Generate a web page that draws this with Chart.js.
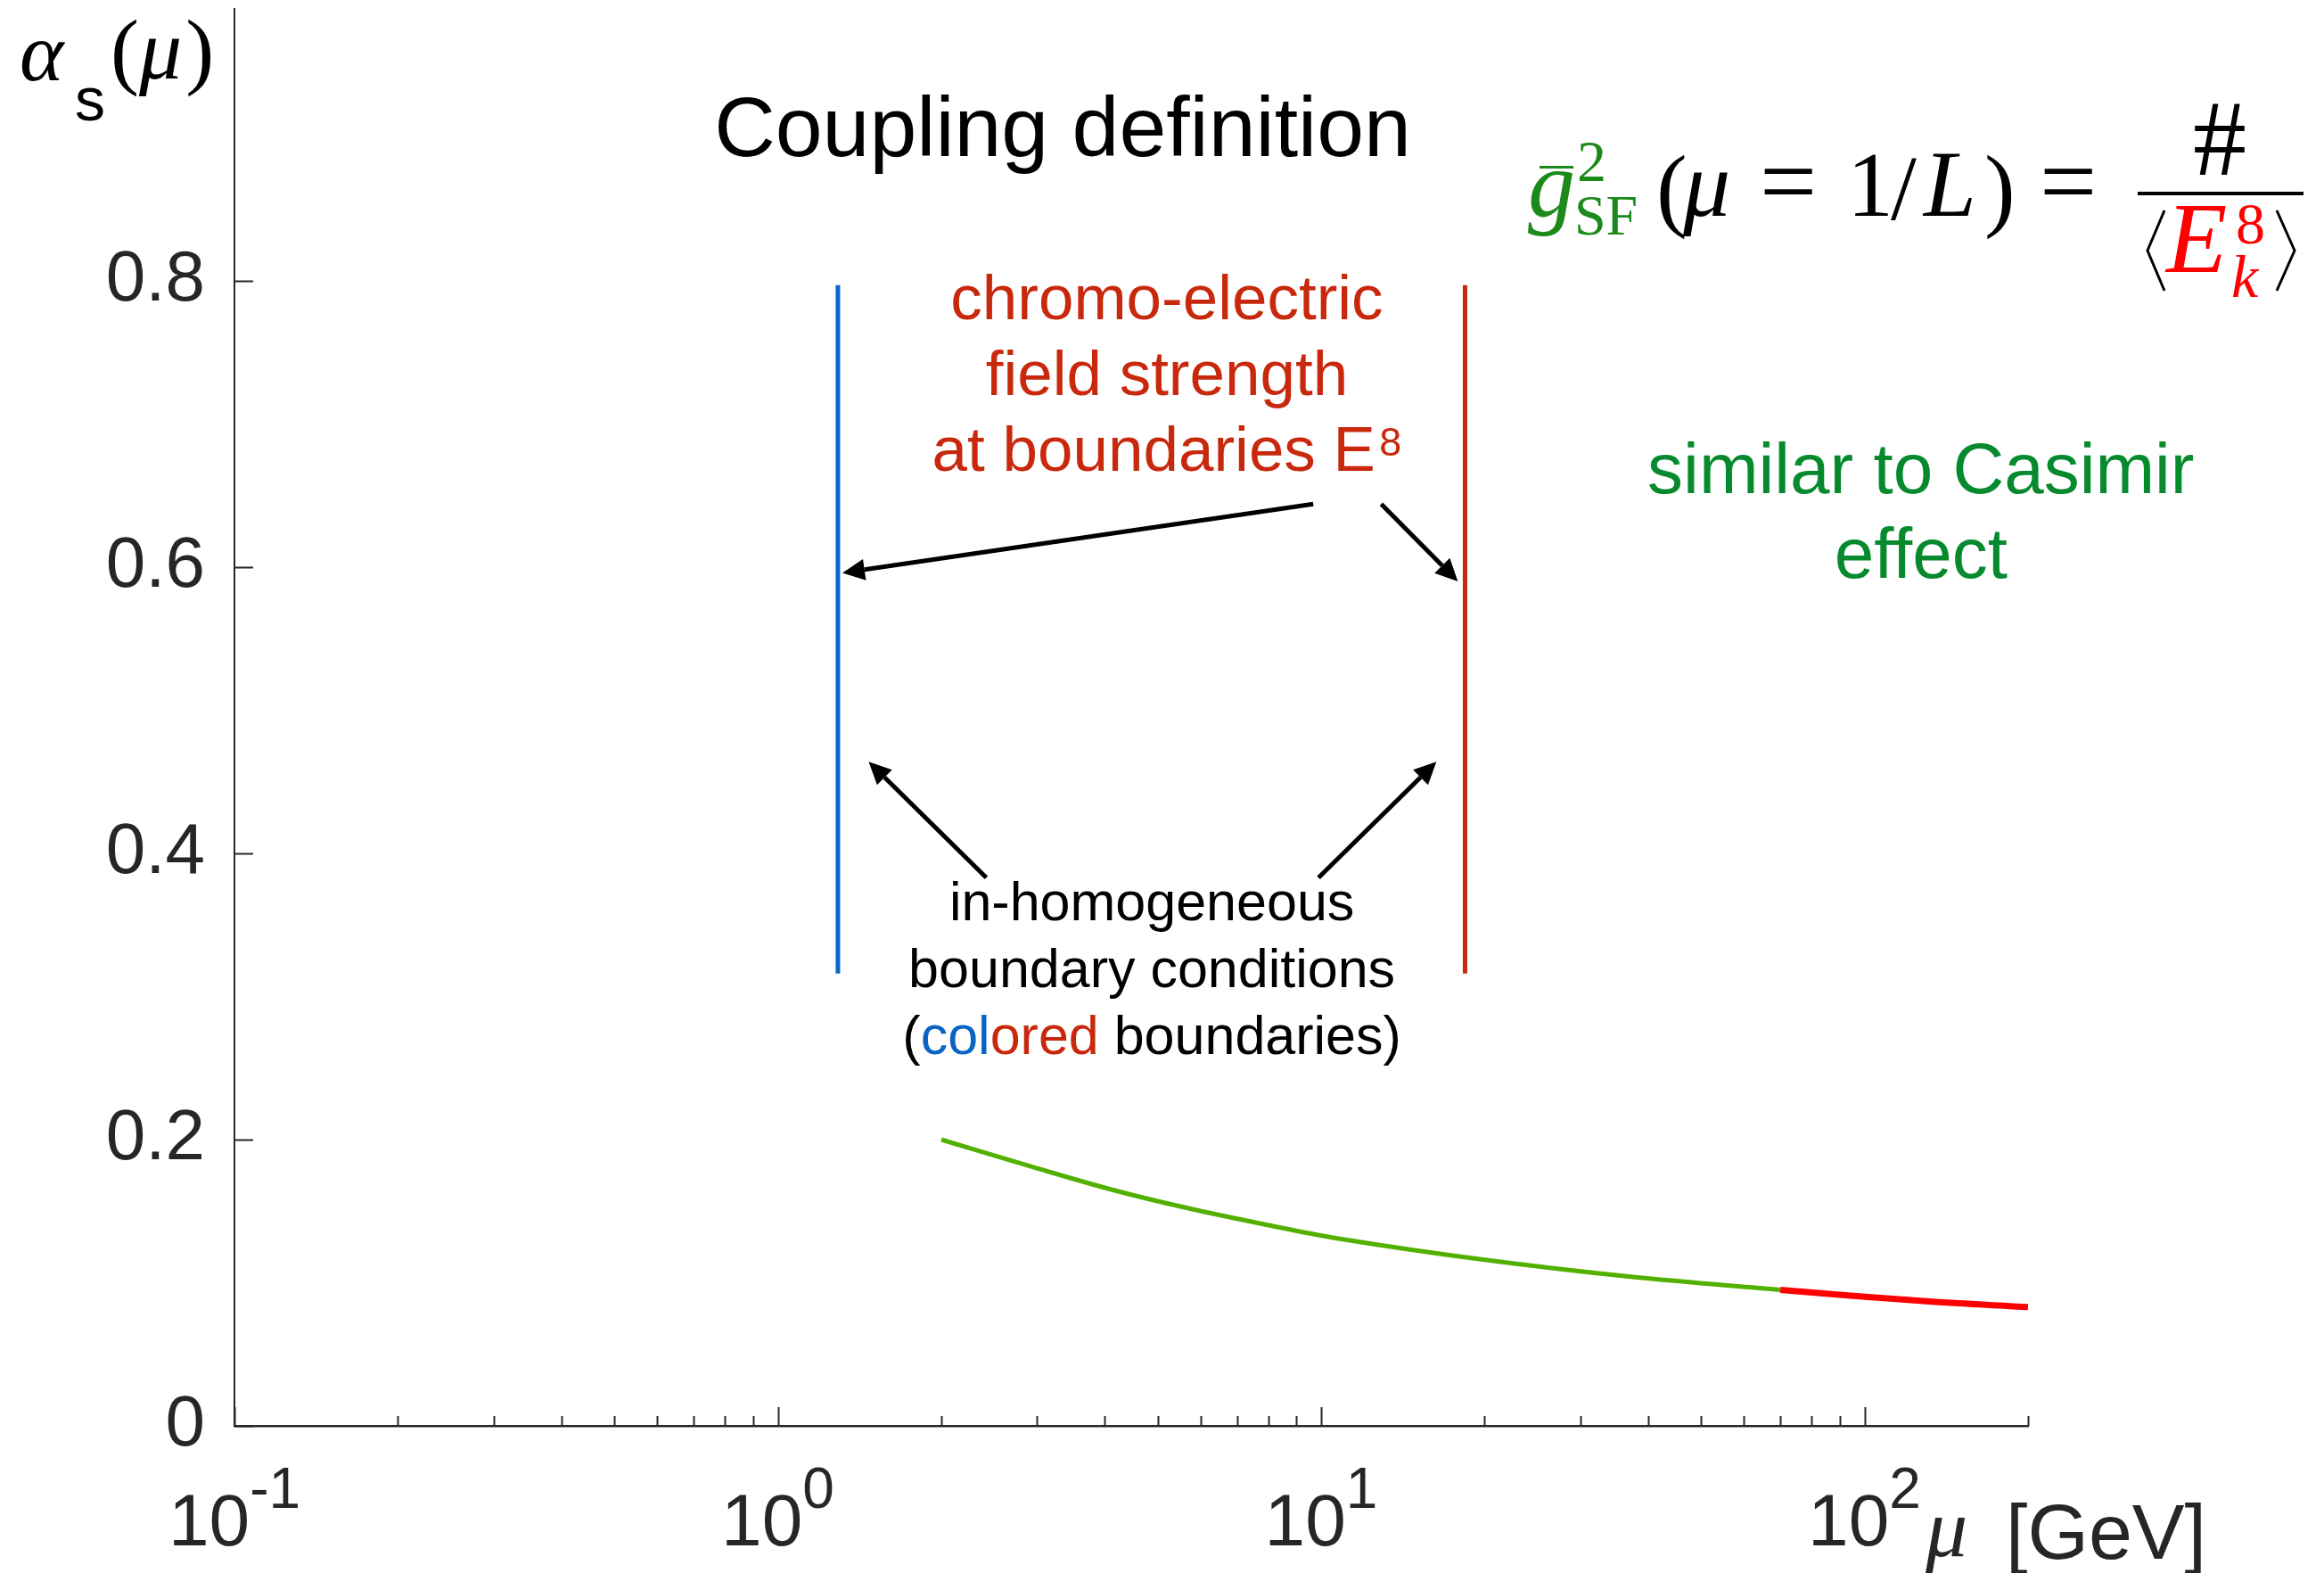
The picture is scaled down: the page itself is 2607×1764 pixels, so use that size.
<!DOCTYPE html>
<html>
<head>
<meta charset="utf-8">
<script src="https://cdn.jsdelivr.net/npm/chart.js@4.4.1/dist/chart.umd.min.js"></script>
<style>
  html, body { margin: 0; padding: 0; background: #fff; }
  canvas { display: block; }
</style>
</head>
<body>
<canvas id="alphaChart" width="2607" height="1764"></canvas>
<script>
// running coupling alpha_s(mu) -- perturbative part and high-energy part
const muLow = [2, 3, 4.17, 5.7, 7.82, 10.7, 20, 37.5, 70];
const alphaLow = [0.200, 0.180, 0.1645, 0.152, 0.141, 0.131, 0.116, 0.104, 0.095];
const muHigh = [70, 130, 200];
const alphaHigh = [0.095, 0.087, 0.083];

// the two colored boundaries (walls) of the finite box
const wallMu = [1.29, 18.4];
const wallAlpha = [0.316, 0.797];

const yTicks = [0, 0.2, 0.4, 0.6, 0.8];
const xDecades = [-1, 0, 1, 2];
const xMinorSteps = [2, 3, 4, 5, 6, 7, 8, 9];

const SANS = '"Liberation Sans", Arial, Helvetica, sans-serif';
const SERIF = '"Liberation Serif", "DejaVu Serif", serif';
const AXIS_INK = '#262626';
const BLUE = '#0a64c2';
const BRICK = '#c8280c';
const LEAF = '#078a2e';

// arrows and notes live in data coordinates [mu, alpha]
const arrows = [
  { from: [9.67, 0.644], to: [1.315, 0.596] },
  { from: [12.9, 0.644], to: [17.85, 0.590] },
  { from: [2.42, 0.383], to: [1.47, 0.464] },
  { from: [9.89, 0.383], to: [16.3, 0.464] }
];

const notes = [
  {
    at: [5.2, 0.773], size: 71, lead: 85,
    lines: [
      [['chromo-electric', BRICK]],
      [['field strength', BRICK]],
      [['at boundaries E', BRICK], ['8', BRICK, 'sup']]
    ]
  },
  {
    at: [4.88, 0.353], size: 61, lead: 75,
    lines: [
      [['in-homogeneous', '#000']],
      [['boundary conditions', '#000']],
      [['(', '#000'], ['col', BLUE], ['ored', BRICK], [' boundaries)', '#000']]
    ]
  },
  {
    at: [127, 0.652], size: 80, lead: 95,
    lines: [
      [['similar to Casimir', LEAF]],
      [['effect', LEAF]]
    ]
  }
];

function put(ctx, text, x, y, font, color, align) {
  ctx.font = font;
  ctx.fillStyle = color;
  ctx.textAlign = align || 'left';
  ctx.textBaseline = 'alphabetic';
  ctx.fillText(text, x, y);
}

function arrow(ctx, x1, y1, x2, y2) {
  const len = 25, half = 12;
  const a = Math.atan2(y2 - y1, x2 - x1);
  const bx = x2 - len * Math.cos(a), by = y2 - len * Math.sin(a);
  ctx.strokeStyle = '#000';
  ctx.fillStyle = '#000';
  ctx.lineWidth = 5;
  ctx.beginPath();
  ctx.moveTo(x1, y1);
  ctx.lineTo(bx, by);
  ctx.stroke();
  ctx.beginPath();
  ctx.moveTo(x2, y2);
  ctx.lineTo(bx + half * Math.sin(a), by - half * Math.cos(a));
  ctx.lineTo(bx - half * Math.sin(a), by + half * Math.cos(a));
  ctx.closePath();
  ctx.fill();
}

// one centered line made of colored runs; 'sup' runs are smaller and raised
function drawRuns(ctx, runs, cx, y, size) {
  const supSize = Math.round(size * 0.64);
  let total = 0;
  const widths = runs.map(r => {
    ctx.font = (r[2] === 'sup' ? supSize : size) + 'px ' + SANS;
    const w = ctx.measureText(r[0]).width + (r[2] === 'sup' ? size * 0.06 : 0);
    total += w;
    return w;
  });
  let x = cx - total / 2;
  runs.forEach((r, i) => {
    if (r[2] === 'sup') {
      put(ctx, r[0], x + size * 0.06, y - size * 0.24, supSize + 'px ' + SANS, r[1]);
    } else {
      put(ctx, r[0], x, y, size + 'px ' + SANS, r[1]);
    }
    x += widths[i];
  });
}

function drawPower(ctx, cx, y, exp) {
  const base = '10', sup = String(exp);
  ctx.font = '82px ' + SANS;
  const wb = ctx.measureText(base).width;
  ctx.font = '64px ' + SANS;
  const ws = ctx.measureText(sup).width;
  const x0 = cx - (wb + ws) / 2;
  put(ctx, base, x0, y, '82px ' + SANS, AXIS_INK);
  put(ctx, sup, x0 + wb, y - 42, '64px ' + SANS, AXIS_INK);
}

function drawFormula(ctx) {
  const green = '#1b8a1b', red = '#ff0000', ink = '#000';
  const it = 'italic 106px ' + SERIF, rm = '104px ' + SERIF;
  put(ctx, 'g', 1714, 242, it, green);
  ctx.fillStyle = green;
  ctx.fillRect(1727, 186, 38, 3);
  put(ctx, '2', 1769, 203, '66px ' + SERIF, green);
  put(ctx, 'SF', 1766, 263, '64px ' + SERIF, green);
  put(ctx, '(', 1858, 246, rm, ink);
  put(ctx, 'μ', 1888, 242, it, ink);
  put(ctx, '=', 1974, 242, '114px ' + SERIF, ink);
  put(ctx, '1', 2072, 242, rm, ink);
  put(ctx, '/', 2121, 246, rm, ink);
  put(ctx, 'L', 2158, 242, it, ink);
  put(ctx, ')', 2226, 246, rm, ink);
  put(ctx, '=', 2288, 242, '114px ' + SERIF, ink);
  // fraction # / <E_k^8>
  ctx.fillStyle = ink;
  ctx.fillRect(2398, 215, 186, 4);
  put(ctx, '#', 2490, 196, '120px ' + SERIF, ink, 'center');
  ctx.strokeStyle = ink;
  ctx.lineWidth = 3;
  ctx.beginPath();
  ctx.moveTo(2428, 236); ctx.lineTo(2409, 281); ctx.lineTo(2428, 326);
  ctx.moveTo(2554, 236); ctx.lineTo(2574, 281); ctx.lineTo(2554, 326);
  ctx.stroke();
  put(ctx, 'E', 2430, 305, 'italic 112px ' + SERIF, red);
  put(ctx, '8', 2508, 273, '66px ' + SERIF, red);
  put(ctx, 'k', 2503, 333, 'italic 68px ' + SERIF, red);
}

const decorations = {
  id: 'decorations',
  afterDraw(chart) {
    const ctx = chart.ctx;
    const xs = chart.scales.x, ys = chart.scales.y;
    const area = chart.chartArea;
    ctx.save();

    // inward tick marks
    ctx.strokeStyle = AXIS_INK;
    ctx.lineWidth = 2;
    ctx.beginPath();
    yTicks.forEach(v => {
      const py = Math.round(ys.getPixelForValue(v)) + 0.5;
      ctx.moveTo(area.left, py);
      ctx.lineTo(area.left + 21, py);
    });
    xDecades.forEach(e => {
      const base = Math.pow(10, e);
      const px = Math.round(xs.getPixelForValue(base)) + 0.5;
      ctx.moveTo(px, area.bottom);
      ctx.lineTo(px, area.bottom - 21);
      xMinorSteps.forEach(k => {
        const v = k * base;
        if (v > xs.max * 1.0001) return;
        const mx = Math.round(xs.getPixelForValue(v)) + 0.5;
        ctx.moveTo(mx, area.bottom);
        ctx.lineTo(mx, area.bottom - 11);
      });
    });
    ctx.stroke();

    // decade labels
    xDecades.forEach(e => drawPower(ctx, xs.getPixelForValue(Math.pow(10, e)), 1733, e));

    // axis titles
    put(ctx, 'μ', 2160, 1745, 'italic 94px ' + SERIF, AXIS_INK);
    put(ctx, '[GeV]', 2250, 1748, '88px ' + SANS, AXIS_INK);
    put(ctx, 'α', 22, 90, 'italic 94px ' + SERIF, '#000');
    put(ctx, 's', 84, 135, '68px ' + SANS, '#000');
    ctx.font = '96px ' + SERIF;
    const pw = ctx.measureText('(').width;
    put(ctx, '(', 124, 88, '96px ' + SERIF, '#000');
    ctx.font = 'italic 96px ' + SERIF;
    const mw = ctx.measureText('μ').width;
    put(ctx, 'μ', 124 + pw, 88, 'italic 96px ' + SERIF, '#000');
    put(ctx, ')', 124 + pw + mw + 4, 88, '96px ' + SERIF, '#000');

    // title and definition of the coupling
    put(ctx, 'Coupling definition', 1192, 175, '95px ' + SANS, '#000', 'center');
    drawFormula(ctx);

    // notes and arrows
    notes.forEach(n => {
      const cx = xs.getPixelForValue(n.at[0]);
      const y0 = ys.getPixelForValue(n.at[1]);
      n.lines.forEach((runs, i) => drawRuns(ctx, runs, cx, y0 + i * n.lead, n.size));
    });
    arrows.forEach(a => arrow(ctx,
      xs.getPixelForValue(a.from[0]), ys.getPixelForValue(a.from[1]),
      xs.getPixelForValue(a.to[0]), ys.getPixelForValue(a.to[1])));

    ctx.restore();
  }
};

const toPoints = (xv, yv) => xv.map((x, i) => ({ x, y: yv[i] }));

new Chart(document.getElementById('alphaChart'), {
  type: 'line',
  data: {
    datasets: [
      {
        data: toPoints(muLow, alphaLow),
        borderColor: '#52b000',
        borderWidth: 5,
        pointRadius: 0,
        tension: 0.35
      },
      {
        data: toPoints(muHigh, alphaHigh),
        borderColor: '#ff0000',
        borderWidth: 7,
        pointRadius: 0,
        tension: 0.35
      },
      {
        data: toPoints([wallMu[0], wallMu[0]], wallAlpha),
        borderColor: BLUE,
        borderWidth: 5,
        pointRadius: 0
      },
      {
        data: toPoints([wallMu[1], wallMu[1]], wallAlpha),
        borderColor: BRICK,
        borderWidth: 5,
        pointRadius: 0
      }
    ]
  },
  options: {
    responsive: false,
    animation: false,
    devicePixelRatio: 1,
    layout: { padding: { left: 0, right: 332, top: 10, bottom: 0 } },
    plugins: {
      legend: { display: false },
      tooltip: { enabled: false }
    },
    scales: {
      x: {
        type: 'logarithmic',
        min: 0.1,
        max: 200,
        grid: { display: false, drawTicks: false },
        border: { display: true, color: AXIS_INK, width: 2.5 },
        ticks: { display: false },
        afterFit: s => { s.height = 165; s.paddingLeft = 0; s.paddingRight = 0; }
      },
      y: {
        type: 'linear',
        min: 0,
        max: 0.99,
        grid: { display: false, drawTicks: false },
        border: { display: true, color: AXIS_INK, width: 2 },
        ticks: {
          padding: 33,
          color: AXIS_INK,
          font: { family: SANS, size: 80 },
          callback: v => String(v)
        },
        afterBuildTicks: s => { s.ticks = yTicks.map(v => ({ value: v })); },
        afterFit: s => { s.width = 263; s.paddingTop = 0; s.paddingBottom = 0; }
      }
    }
  },
  plugins: [decorations]
});
</script>
</body>
</html>
